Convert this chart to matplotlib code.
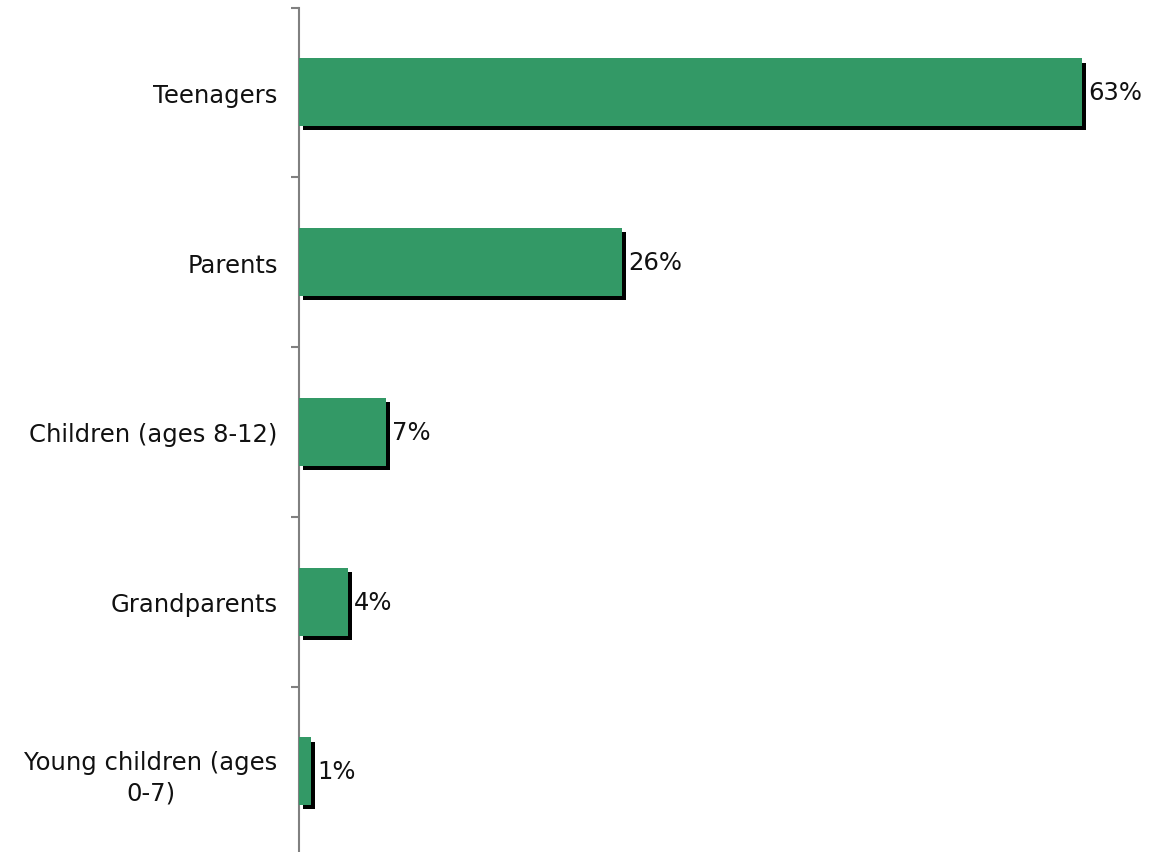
import matplotlib
matplotlib.use("Agg")
from matplotlib import pyplot as plt
from matplotlib import patheffects as pe
import numpy as np

groups = ["Teenagers", "Parents", "Children (ages 8-12)", "Grandparents",
          "Young children (ages\n0-7)"]
shares = [63, 26, 7, 4, 1]

bar_color = "#339966"
axis_color = "#808080"

fig = plt.figure(figsize=(11.49, 8.53), dpi=100)
W, H = 1149.0, 853.0
top_px, band_px = 8.5, 169.75
ax = fig.add_axes([298.5 / W, 1 - (top_px + 5 * band_px) / H,
                   (W - 298.5) / W, 5 * band_px / H])

pos = np.arange(len(groups))
bars = ax.barh(pos, shares, height=0.4, color=bar_color, zorder=3)
for b in bars:
    b.set_path_effects([pe.SimplePatchShadow(offset=(3, -3), shadow_rgbFace="black", alpha=1.0),
                        pe.Normal()])

for y, v in zip(pos, shares):
    ax.annotate(f"{v}%", xy=(v, y), xytext=(6, 0), textcoords="offset pixels",
                ha="left", va="center", fontsize=17.5, color="#111111")

ax.set_xlim(0, 850 / 12.43)
ax.set_ylim(4.5, -0.5)

ax.set_yticks(pos)
ax.set_yticklabels(groups, fontsize=17.5, color="#111111", multialignment="center",
                   linespacing=1.35)
ax.set_yticks(np.arange(-0.5, 5.0, 1.0), minor=True)
ax.tick_params(axis="y", which="major", length=0, pad=15)
ax.tick_params(axis="y", which="minor", length=6, width=1.5, color=axis_color, direction="out")
ax.set_xticks([])

for s in ["top", "right", "bottom"]:
    ax.spines[s].set_visible(False)
ax.spines["left"].set_color(axis_color)
ax.spines["left"].set_linewidth(1.5)

fig.savefig("out.png", dpi=100)
